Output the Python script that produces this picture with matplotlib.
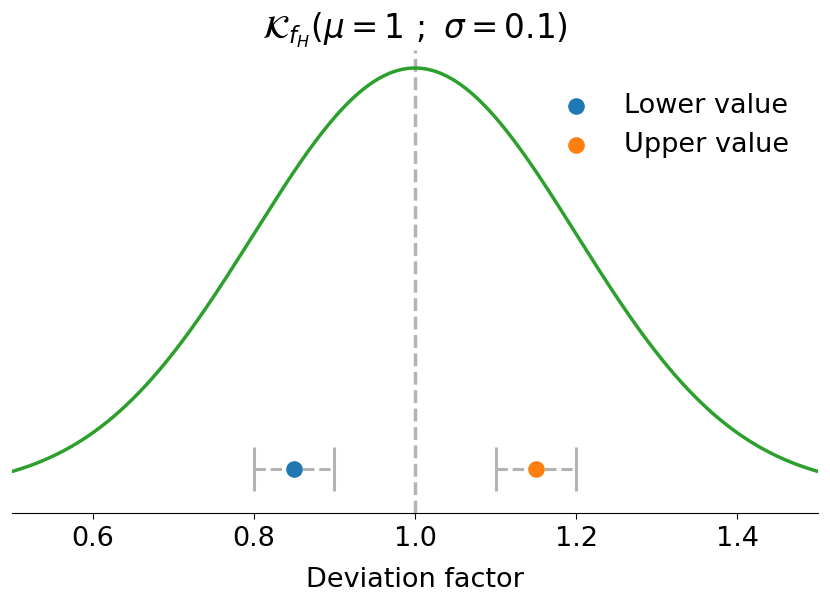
import matplotlib
matplotlib.use('Agg')
import matplotlib.pyplot as plt
import numpy as np


# Curve parameters (width)
curve_mu = 1.0
curve_sd = 0.2

# Lower / upper values and their ranges
point_labels = ['Lower value', 'Upper value']
point_values = [0.85, 1.15]
range_low = [0.8, 1.1]
range_high = [0.9, 1.2]
point_level = 0.05

x_ticks = [0.6, 0.8, 1.0, 1.2, 1.4]


def main():

    # Create figure and axis
    fig = plt.figure(figsize=(8.3, 6.07), dpi=100)
    ax = fig.add_axes([12 / 830, 1 - 513 / 607, 806 / 830, 463 / 607])

    # Kernel curve
    x = np.linspace(0.5, 1.5, 500)
    y = np.exp(-0.5 * ((x - curve_mu) / curve_sd) ** 2)

    # Vertical line at the mean
    ax.axvline(curve_mu, color='#b3b3b3', linestyle='--', linewidth=2.5,
               zorder=1)
    ax.plot(x, y, color='#2ca02c', linewidth=2.5, zorder=2)

    # Ranges with caps
    for i, val in enumerate(point_values):
        err = [[val - range_low[i]], [range_high[i] - val]]
        eb = ax.errorbar([val], [point_level], xerr=err, fmt='none',
                         ecolor='#b3b3b3', elinewidth=2.2, capsize=16,
                         capthick=2.2, zorder=3)
        eb[2][0].set_linestyle('--')

    # Points
    colors = ['#1f77b4', '#ff7f0e']
    for i, val in enumerate(point_values):
        ax.scatter([val], [point_level], s=120, color=colors[i],
                   label=point_labels[i], zorder=4)

    # Formatting
    ax.set_xlim(0.5, 1.5)
    ax.set_ylim(-0.0545, 1.0427)
    ax.set_xticks(x_ticks)
    ax.set_xticklabels([f'{t:.1f}' for t in x_ticks], fontsize=19.5)
    ax.set_yticks([])
    ax.tick_params(axis='x', length=4.5, pad=5)
    for side in ['top', 'left', 'right']:
        ax.spines[side].set_visible(False)
    ax.set_xlabel('Deviation factor', fontsize=19.5, labelpad=11)
    ax.set_title(r'$\mathcal{K}_{f_H}(\mu = 1\ ;\ \sigma = 0.1)$',
                 fontsize=23.5, pad=4)

    ax.legend(loc='upper right', bbox_to_anchor=(0.995, 0.96),
              frameon=False, fontsize=19.5)

    # Save and close figure
    fig.savefig('out.png', dpi=100)
    plt.close()


if __name__ == "__main__":
    main()
